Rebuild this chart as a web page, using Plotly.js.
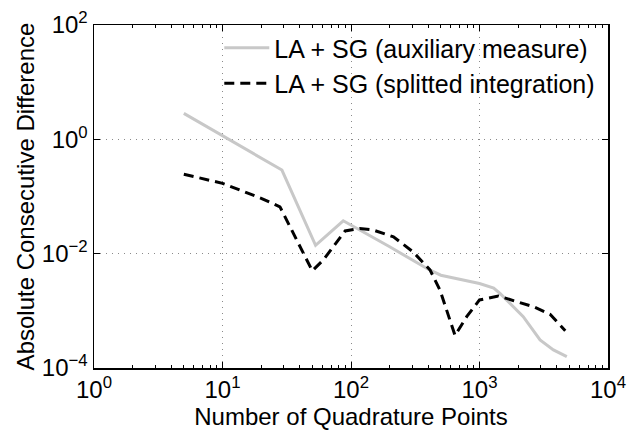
<!DOCTYPE html>
<html>
<head>
<meta charset="utf-8">
<script src="https://cdn.plot.ly/plotly-3.0.1.min.js"></script>
<style>html,body{margin:0;padding:0;background:#fff;}#chart{width:628px;height:431px;}</style>
</head>
<body>
<div id="chart"></div>
<script>
// Series: LA + SG (auxiliary measure)
var auxX = [5, 29, 53, 87, 200, 390, 500, 750, 1000, 1290, 1450, 2190, 2960, 3760, 4780];
var auxY = [2.85, 0.29, 0.014, 0.0376, 0.0132, 0.0055, 0.0042, 0.0035, 0.0030, 0.0025, 0.0020, 0.00079, 0.00031, 0.000207, 0.000158];
// Series: LA + SG (splitted integration)
var splX = [5, 10, 20, 28, 50, 61, 90, 117, 149, 214, 305, 412, 493, 645, 795, 1000, 1400, 2630, 3540, 4650];
var splY = [0.245, 0.17, 0.093, 0.066, 0.0050, 0.0078, 0.025, 0.0276, 0.0259, 0.0197, 0.0107, 0.0052, 0.0023, 0.00037, 0.00079, 0.00155, 0.00182, 0.00118, 0.00087, 0.00045];

var xTickVals = [1, 10, 100, 1000, 10000];
var xTickText = ['10<sup>0</sup>', '10<sup>1</sup>', '10<sup>2</sup>', '10<sup>3</sup>', '10<sup>4</sup>'];
var yTickVals = [0.0001, 0.01, 1, 100];
var yTickText = ['10<sup>\u22124</sup>', '10<sup>\u22122</sup>', '10<sup>0</sup>', '10<sup>2</sup>'];

var names = ['LA + SG (auxiliary measure)', 'LA + SG (splitted integration)'];

var xMinor = [];
for (var d = 1; d < 10000; d *= 10) { for (var k = 2; k <= 9; k++) xMinor.push(d * k); }

var fam = 'Liberation Sans, Arial, sans-serif';
var font = {family: fam, size: 24, color: '#000'};

var traces = [
  {x: auxX, y: auxY, name: names[0], type: 'scatter', mode: 'lines',
   line: {color: '#c8c8c8', width: 3}},
  {x: splX, y: splY, name: names[1], type: 'scatter', mode: 'lines',
   line: {color: '#000', width: 3, dash: '10px,6px'}}
];

var layout = {
  width: 628, height: 431,
  margin: {l: 94, r: 20, t: 25, b: 63},
  paper_bgcolor: '#fff', plot_bgcolor: '#fff',
  font: font,
  showlegend: true,
  legend: {x: 0.985, xanchor: 'right', y: 1.0, yanchor: 'top', bgcolor: 'rgba(255,255,255,0)',
           font: {family: fam, size: 25, color: '#000'}, itemwidth: 45, tracegroupgap: 0},
  xaxis: {
    type: 'log', range: [0, 4], autorange: false,
    tickmode: 'array', tickvals: xTickVals, ticktext: xTickText,
    ticks: 'inside', ticklen: 6, tickwidth: 1, tickcolor: '#000',
    showline: true, linecolor: '#000', linewidth: 1.5, mirror: 'allticks',
    showgrid: true, gridcolor: '#8a8a8a', gridwidth: 1, griddash: '1px,5px',
    zeroline: false,
    tickfont: {family: fam, size: 24, color: '#000'},
    minor: {tickmode: 'array', tickvals: xMinor, ticks: 'inside', ticklen: 3, tickcolor: '#000', showgrid: false},
    title: {text: 'Number of Quadrature Points', font: {family: fam, size: 24, color: '#000'}, standoff: 3}
  },
  yaxis: {
    type: 'log', range: [-4, 2], autorange: false,
    tickmode: 'array', tickvals: yTickVals, ticktext: yTickText,
    ticks: 'inside', ticklen: 6, tickwidth: 1, tickcolor: '#000',
    showline: true, linecolor: '#000', linewidth: 1.5, mirror: 'allticks',
    showgrid: true, gridcolor: '#8a8a8a', gridwidth: 1, griddash: '1px,5px',
    zeroline: false,
    tickfont: {family: fam, size: 24, color: '#000'},
    title: {text: 'Absolute Consecutive Difference', font: {family: fam, size: 24, color: '#000'}, standoff: 0}
  }
};

Plotly.newPlot('chart', traces, layout, {displayModeBar: false, staticPlot: true});
</script>
</body>
</html>
